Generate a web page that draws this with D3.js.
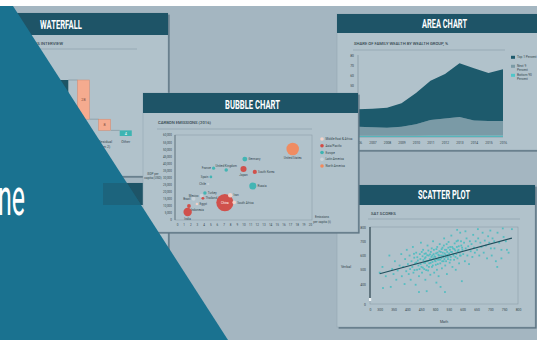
<!DOCTYPE html>
<html>
<head>
<meta charset="utf-8">
<script src="https://cdn.jsdelivr.net/npm/d3@7"></script>
<style>
  html, body { margin: 0; padding: 0; background: #a4b6c1; overflow: hidden; }
  svg { display: block; }
</style>
</head>
<body>
<svg id="board" width="537" height="340"></svg>
<script>
// ---------- Waterfall ----------
const waterfallCats   = ["Interviews", "Declined", "Residual", "Other"];
const waterfallLabels = [["Interviews"], ["Declined"], ["(Residual", "Item 2)"], ["Other"]];
const waterfallValues = [40, -28, -8, 4];
const waterfallKinds  = ["total", "delta", "delta", "total"];

// ---------- Bubble chart: CO2 per capita vs GDP per capita ----------
const bubbleCountries = ["United States", "Germany", "Japan", "South Korea", "Russia", "China", "Iran",
  "South Africa", "United Kingdom", "France", "Spain", "Chile", "Turkey", "Mexico", "Brazil",
  "Thailand", "Egypt", "Indonesia", "India"];
const bubbleCo2PerCapita = [17.4, 10.2, 10.0, 11.7, 11.4, 7.2, 8.0, 8.6, 7.4, 5.5, 5.1, 4.7, 4.2, 3.7, 2.5, 3.9, 3.0, 1.8, 1.6];
const bubbleGdpPerCapita = [50100, 43000, 36000, 33900, 24000, 12300, 17500, 12400, 35300, 36600, 30400, 25400, 19000, 17200, 15000, 15300, 11300, 9900, 5700];
const bubbleTotalCo2     = [5300, 800, 1250, 600, 1700, 10000, 650, 450, 420, 330, 250, 85, 400, 470, 480, 280, 230, 500, 2400];
const bubbleRegion = ["North America", "Europe", "Asia/Pacific", "Asia/Pacific", "Europe", "Asia/Pacific",
  "Middle East & Africa", "Middle East & Africa", "Europe", "Europe", "Europe", "Latin America", "Europe",
  "Latin America", "Latin America", "Asia/Pacific", "Middle East & Africa", "Asia/Pacific", "Asia/Pacific"];
const bubbleRegions = ["Middle East & Africa", "Asia/Pacific", "Europe", "Latin America", "North America"];
const bubbleYTicks = d3.range(0, 60001, 5000);
const bubbleXTicks = d3.range(0, 21, 1);

// ---------- Area chart: share of family wealth ----------
const wealthYears    = [2006, 2007, 2008, 2009, 2010, 2011, 2012, 2013, 2014, 2015, 2016];
const wealthBottom90 = [1.2, 1.2, 1.3, 1.3, 1.3, 1.4, 1.4, 1.5, 1.5, 1.4, 1.4];
const wealthNext9    = [8.8, 8.3, 7.7, 8.7, 11.2, 15.1, 16.6, 18.0, 14.5, 14.1, 14.1];
const wealthTop1     = [17.0, 18.0, 19.5, 23.0, 30.5, 38.5, 43.5, 52.5, 51.0, 47.0, 50.5];
const wealthGroups   = ["Top 1 Percent", "Next 9 Percent", "Bottom 90 Percent"];
const wealthYTicks   = [0, 10, 20, 30, 40, 50, 60, 70, 80];

// ---------- Scatter plot: SAT scores [math, verbal] ----------
const satScores = [
  [300,480],[310,520],[312,372],[322,455],[335,600],[340,380],[345,505],[350,470],
  [355,560],[360,430],[365,495],[372,530],[378,610],[380,455],[385,520],[390,400],[392,575],[396,490],[398,640],
  [402,540],[405,470],[408,600],[410,505],[412,430],[415,560],[418,520],[420,660],[422,480],[425,585],[428,545],
  [430,395],[432,620],[435,500],[438,565],[440,530],[442,344],[442,455],[445,610],[447,575],[449,690],
  [451,520],[453,480],[455,595],[457,640],[459,550],[461,505],[463,580],[465,430],[467,615],[469,560],[470,350],
  [471,530],[473,670],[475,495],[477,600],[479,545],[481,575],[483,465],[485,625],[487,590],[489,520],[491,555],
  [493,700],[495,610],[497,480],[499,565],[501,590],[503,535],[505,645],[505,410],[507,500],[509,620],[511,570],
  [513,455],[515,600],[517,680],[519,545],[520,380],[521,625],[523,580],[525,510],[527,655],[529,600],[531,560],
  [533,720],[535,615],[536,344],[537,530],[539,590],[541,640],[543,470],[545,605],[547,575],[549,695],
  [551,615],[553,550],[555,660],[557,590],[559,740],[561,625],[563,520],[565,650],[567,600],[569,570],[571,685],
  [573,635],[575,500],[577,610],[579,660],[581,580],[583,705],[585,640],[587,545],[589,620],[591,760],[593,600],
  [595,670],[597,420],[599,640],[602,610],[605,690],[608,560],[611,650],[614,720],[617,600],[620,665],[623,540],
  [626,700],[629,630],[632,680],[635,590],[638,745],[641,655],[644,620],[647,700],[652,640],[656,720],[660,600],
  [664,690],[668,660],[672,760],[676,620],[680,705],[684,670],[688,580],[692,735],[696,690],[702,650],[708,720],
  [714,700],[720,560],[726,760],[732,690],[740,640],[748,730],[756,700],[766,620],[778,785],
  [424,612],[426,498],[433,552],[436,588],[444,505],[448,540],[452,625],[456,515],[458,568],[462,612],[464,548],
  [466,588],[468,498],[472,602],[474,562],[476,635],[478,520],[482,608],[484,548],[486,570],[488,650],[490,600],
  [492,530],[494,580],[496,640],[498,595],[502,560],[504,615],[506,575],[508,660],[510,540],[512,605],[514,585],
  [516,630],[518,570],[522,600],[524,645],[526,560],[528,620],[530,590],[532,670],[534,575],[536,640],[538,605],
  [540,560],[542,680],[544,625],[546,590],[548,655],[552,600],[554,640],[556,570],[558,625],[562,660],[566,610],
  [570,645],[574,590],[578,700],[582,630],[586,665],[590,600],[594,700],[598,655],
  [580,780],[610,770],[655,785],[700,775],[745,790],[705,600],[725,520],[740,580],[760,640],[715,650]
];
const satMathTicks   = [265, 300, 350, 400, 450, 500, 550, 600, 650, 700, 750, 800];
const satVerbalTicks = [260, 400, 500, 600, 700, 800];

// ---------- Styling ----------
const FONT = "Roboto, 'DejaVu Sans', sans-serif";
const COL = {
  page: "#a4b6c1", body: "#b1c2cb", head: "#1e5467", shadow: "#5d7583",
  tri: "#1a7290", ink: "#34474f", frame: "#8799a3",
  salmon: "#f5ab8f", salmonEdge: "#c98a74", teal: "#3db4b2", dark: "#1d5566",
  red: "#d24b45", orange: "#f2895c", pale: "#f3d3c9", grey: "#c8d3d9",
  areaDark: "#1d5a6c", areaMid: "#7a9aa6", areaCyan: "#4fc6ca", dot: "#4bbdc0"
};
const regionColor = d3.scaleOrdinal()
  .domain(bubbleRegions)
  .range([COL.pale, COL.red, COL.teal, COL.grey, COL.orange]);

const svg = d3.select("#board");
svg.append("rect").attr("width", 537).attr("height", 340).attr("fill", COL.page);
svg.append("rect").attr("width", 537).attr("height", 6).attr("fill", "#ffffff");

function panel(x, y, w, h, hh, title, cx, tlen, base, fs) {
  const g = svg.append("g");
  g.append("rect").attr("x", x + 1.6).attr("y", y + 1.6).attr("width", w).attr("height", h)
    .attr("fill", COL.shadow);
  g.append("rect").attr("x", x).attr("y", y).attr("width", w).attr("height", h)
    .attr("fill", COL.body).attr("stroke", "#8fa3ae").attr("stroke-width", 0.5);
  g.append("rect").attr("x", x).attr("y", y).attr("width", w).attr("height", hh).attr("fill", COL.head);
  if (title) {
    g.append("text").attr("x", cx).attr("y", base).attr("text-anchor", "middle")
      .attr("font-family", FONT).attr("font-weight", 700).attr("font-size", fs)
      .attr("fill", "#ffffff").attr("textLength", tlen).attr("lengthAdjust", "spacingAndGlyphs")
      .text(title);
  }
  return g;
}

function tinyText(g, x, y, t, opts = {}) {
  return g.append("text").attr("x", x).attr("y", y)
    .attr("font-family", FONT).attr("font-size", opts.size || 3.4)
    .attr("fill", opts.fill || COL.ink).attr("text-anchor", opts.anchor || "start")
    .attr("font-weight", opts.weight || 400)
    .text(t);
}

function styleAxis(g, size) {
  g.attr("font-family", FONT).attr("font-size", size || 3.3);
  g.select(".domain").remove();
  g.selectAll(".tick line").remove();
  g.selectAll(".tick text").attr("fill", COL.ink);
}

// ================= WATERFALL =================
{
  const g = panel(16, 13, 152, 163, 22, "WATERFALL", 61, 42, 29, 13);
  tinyText(g, 27, 45, "SALES INTERVIEW", { size: 4.3, weight: 500 });
  g.append("line").attr("x1", 28).attr("x2", 137).attr("y1", 49).attr("y2", 49)
    .attr("stroke", "#7f929c").attr("stroke-width", 0.5);

  const x = d3.scaleBand().domain(waterfallCats).range([52, 136]).paddingInner(0.43).paddingOuter(0.2);
  const y = d3.scaleLinear().domain([0, 40]).range([136, 80]);

  let running = 0;
  const steps = waterfallCats.map((c, i) => {
    const v = waterfallValues[i];
    let y0, y1;
    if (waterfallKinds[i] === "total") { y0 = 0; y1 = v; running = v; }
    else { y0 = running; y1 = running + v; running = y1; }
    return { c, v, y0, y1, kind: waterfallKinds[i], i };
  });

  // connectors between consecutive steps
  steps.slice(0, -1).forEach((s, i) => {
    g.append("line")
      .attr("x1", x(s.c) + x.bandwidth()).attr("x2", x(steps[i + 1].c))
      .attr("y1", y(s.y1)).attr("y2", y(s.y1))
      .attr("stroke", "#7b8d97").attr("stroke-width", 0.6);
  });

  g.selectAll("rect.wf").data(steps).join("rect").attr("class", "wf")
    .attr("x", d => x(d.c)).attr("width", x.bandwidth())
    .attr("y", d => y(Math.max(d.y0, d.y1)))
    .attr("height", d => Math.abs(y(d.y0) - y(d.y1)))
    .attr("fill", d => d.i === 0 ? COL.dark : (d.kind === "total" ? COL.teal : COL.salmon))
    .attr("stroke", d => d.kind === "delta" ? COL.salmonEdge : "none")
    .attr("stroke-width", 0.5);

  g.selectAll("text.wfv").data(steps.filter(d => d.i > 0)).join("text").attr("class", "wfv")
    .attr("x", d => x(d.c) + x.bandwidth() / 2)
    .attr("y", d => (y(d.y0) + y(d.y1)) / 2 + 1.3)
    .attr("text-anchor", "middle").attr("font-family", FONT).attr("font-size", 3.8)
    .attr("fill", d => d.kind === "total" ? "#ffffff" : "#7a4a3c")
    .text(d => Math.abs(d.v));

  steps.forEach((s, i) => {
    waterfallLabels[i].forEach((line, k) => {
      tinyText(g, x(s.c) + x.bandwidth() / 2, 143 + k * 4.5, line, { anchor: "middle", size: 3.6 });
    });
  });
}

// ================= LOWER-LEFT PANEL (behind) =================
panel(100, 183, 68, 170, 22, null);

// ================= AREA CHART =================
{
  const g = panel(337, 14, 210, 136, 19, "AREA CHART", 444.5, 45, 28, 12);
  tinyText(g, 354, 45, "SHARE OF FAMILY WEALTH BY WEALTH GROUP, %", { size: 4.2, weight: 500 });
  g.append("line").attr("x1", 353).attr("x2", 505).attr("y1", 50).attr("y2", 50)
    .attr("stroke", "#7f929c").attr("stroke-width", 0.5);

  const x = d3.scaleLinear().domain(d3.extent(wealthYears)).range([358, 503]);
  const y = d3.scaleLinear().domain([0, 80]).range([137, 55]);

  const rows = wealthYears.map((yr, i) => ({
    year: yr, b90: wealthBottom90[i], n9: wealthNext9[i], t1: wealthTop1[i]
  }));
  const series = d3.stack().keys(["b90", "n9", "t1"])(rows);
  const fills = { b90: COL.areaCyan, n9: COL.areaMid, t1: COL.areaDark };
  const area = d3.area().x(d => x(d.data.year)).y0(d => y(d[0])).y1(d => y(d[1]));
  g.selectAll("path.ar").data(series).join("path").attr("class", "ar")
    .attr("d", area).attr("fill", d => fills[d.key]);

  g.append("line").attr("x1", 358).attr("x2", 358).attr("y1", 55).attr("y2", 137)
    .attr("stroke", "#6f828c").attr("stroke-width", 0.5);
  g.append("line").attr("x1", 358).attr("x2", 503).attr("y1", 137).attr("y2", 137)
    .attr("stroke", "#6f828c").attr("stroke-width", 0.5);

  const ya = g.append("g").attr("transform", "translate(355,0)")
    .call(d3.axisLeft(y).tickValues(wealthYTicks).tickSize(0).tickPadding(1));
  styleAxis(ya, 3.4);
  const xa = g.append("g").attr("transform", "translate(0,140)")
    .call(d3.axisBottom(x).tickValues(wealthYears).tickFormat(d3.format("d")).tickSize(0).tickPadding(2));
  styleAxis(xa, 3.3);

  const lg = [{ k: "t1", t: ["Top 1 Percent"] }, { k: "n9", t: ["Next 9", "Percent"] }, { k: "b90", t: ["Bottom 90", "Percent"] }];
  const lgY = d3.scalePoint().domain(lg.map(d => d.k)).range([58, 76]);
  lg.forEach(d => {
    g.append("rect").attr("x", 511).attr("y", lgY(d.k) - 2.2).attr("width", 4).attr("height", 3)
      .attr("fill", fills[d.k]);
    d.t.forEach((line, k) => tinyText(g, 517, lgY(d.k) + k * 4, line, { size: 3.2 }));
  });
}

// ================= SCATTER PLOT =================
{
  const g = panel(337, 185, 198, 142, 20, "SCATTER PLOT", 444, 52, 199, 12);
  tinyText(g, 371, 215, "SAT SCORES", { size: 4.3, weight: 500 });
  g.append("line").attr("x1", 368).attr("x2", 520).attr("y1", 219).attr("y2", 219)
    .attr("stroke", "#7f929c").attr("stroke-width", 0.5);

  const x = d3.scaleLinear().domain([265, 800]).range([370, 518]);
  const y = d3.scaleLinear().domain([260, 800]).range([304, 227]);

  g.append("rect").attr("x", 370).attr("y", 227).attr("width", 148).attr("height", 77)
    .attr("fill", "none").attr("stroke", COL.frame).attr("stroke-width", 0.5);

  g.selectAll("rect.pt").data(satScores).join("rect").attr("class", "pt")
    .attr("x", d => x(d[0]) - 0.9).attr("y", d => y(d[1]) - 0.9)
    .attr("width", 1.8).attr("height", 1.8).attr("fill", COL.dot).attr("opacity", 0.9);

  // least-squares trend line
  const mx = d3.mean(satScores, d => d[0]), my = d3.mean(satScores, d => d[1]);
  const slope = d3.sum(satScores, d => (d[0] - mx) * (d[1] - my)) / d3.sum(satScores, d => (d[0] - mx) ** 2);
  const [xmin, xmax] = d3.extent(satScores, d => d[0]);
  const fit = v => my + slope * (v - mx);
  g.append("line").attr("x1", x(xmin)).attr("y1", y(fit(xmin))).attr("x2", x(xmax)).attr("y2", y(fit(xmax)))
    .attr("stroke", "#1f4e5c").attr("stroke-width", 1.1);

  // left axis line with break mark
  g.append("line").attr("x1", 370).attr("x2", 370).attr("y1", 227).attr("y2", 300)
    .attr("stroke", "#3c525d").attr("stroke-width", 1.3);
  g.append("rect").attr("x", 369).attr("y", 298).attr("width", 2.2).attr("height", 3)
    .attr("fill", "#eef3f5");

  const ya = g.append("g").attr("transform", "translate(367,0)")
    .call(d3.axisLeft(y).tickValues(satVerbalTicks).tickFormat(d => d === 260 ? "0" : d).tickSize(0).tickPadding(1));
  styleAxis(ya, 3.4);
  const xa = g.append("g").attr("transform", "translate(0,308)")
    .call(d3.axisBottom(x).tickValues(satMathTicks).tickFormat(d => d === 265 ? "0" : d).tickSize(0).tickPadding(1));
  styleAxis(xa, 3.4);

  tinyText(g, 346, 268, "Verbal", { size: 3.6, anchor: "middle" });
  tinyText(g, 444, 323, "Math", { size: 3.6, anchor: "middle" });
}

// ================= BUBBLE CHART =================
{
  const g = panel(143, 93, 215, 139, 20, "BUBBLE CHART", 252.5, 55, 108.5, 13);
  tinyText(g, 158, 124, "CARBON EMISSIONS (2016)", { size: 4.2, weight: 500 });
  g.append("line").attr("x1", 157).attr("x2", 312).attr("y1", 129).attr("y2", 129)
    .attr("stroke", "#7f929c").attr("stroke-width", 0.5);

  const x = d3.scaleLinear().domain([0, 20]).range([177, 310]);
  const y = d3.scaleLinear().domain([0, 60000]).range([220, 135]);
  const r = d3.scaleSqrt().domain([0, 10000]).range([0, 8.6]);

  g.append("rect").attr("x", 175).attr("y", 135).attr("width", 137).attr("height", 85)
    .attr("fill", "none").attr("stroke", COL.frame).attr("stroke-width", 0.5);
  g.append("line").attr("x1", 175).attr("x2", 175).attr("y1", 135).attr("y2", 220)
    .attr("stroke", "#4d626d").attr("stroke-width", 0.7);

  const ya = g.append("g").attr("transform", "translate(173,0)")
    .call(d3.axisLeft(y).tickValues(bubbleYTicks).tickFormat(d3.format(",")).tickSize(0).tickPadding(1));
  styleAxis(ya, 3.0);
  const xa = g.append("g").attr("transform", "translate(0,223)")
    .call(d3.axisBottom(x).tickValues(bubbleXTicks).tickSize(0).tickPadding(1));
  styleAxis(xa, 3.0);

  const bubbles = bubbleCountries.map((n, i) => ({
    name: n, x: bubbleCo2PerCapita[i], y: bubbleGdpPerCapita[i], v: bubbleTotalCo2[i], region: bubbleRegion[i]
  })).sort((a, b) => b.v - a.v);

  g.selectAll("circle.bb").data(bubbles).join("circle").attr("class", "bb")
    .attr("cx", d => x(d.x)).attr("cy", d => y(d.y)).attr("r", d => Math.max(r(d.v), 1.1))
    .attr("fill", d => regionColor(d.region)).attr("opacity", 0.95);

  // label placement around each bubble
  const side = {
    "United States": "b", "Germany": "r", "Japan": "b", "South Korea": "r", "Russia": "r",
    "China": "c", "Iran": "r", "South Africa": "r", "United Kingdom": "t", "France": "l",
    "Spain": "l", "Chile": "l", "Turkey": "r", "Mexico": "l", "Brazil": "l",
    "Thailand": "r", "Egypt": "r", "Indonesia": "br", "India": "b"
  };
  bubbles.forEach(d => {
    const cx = x(d.x), cy = y(d.y), rr = Math.max(r(d.v), 1.1), s = side[d.name];
    let tx = cx, ty = cy + 1.1, anchor = "middle", fill = COL.ink;
    if (s === "r") { tx = cx + rr + 1.2; anchor = "start"; }
    if (s === "l") { tx = cx - rr - 1.2; anchor = "end"; }
    if (s === "b") { ty = cy + rr + 3.6; }
    if (s === "br") { tx = cx + rr; anchor = "start"; ty = cy + rr + 3.4; }
    if (s === "t") { ty = cy - rr - 1.5; }
    if (s === "c") { fill = "#ffffff"; }
    tinyText(g, tx, ty, d.name, { size: 3.0, anchor, fill });
  });

  tinyText(g, 153, 175, "GDP per", { size: 3.1, anchor: "middle" });
  tinyText(g, 153, 179, "capita (USD)", { size: 3.1, anchor: "middle" });
  tinyText(g, 322, 218, "Emissions", { size: 3.1, anchor: "middle" });
  tinyText(g, 322, 222.5, "per capita (t)", { size: 3.1, anchor: "middle" });

  const ly = d3.scalePoint().domain(bubbleRegions).range([139, 166]);
  bubbleRegions.forEach(rg => {
    g.append("circle").attr("cx", 322).attr("cy", ly(rg)).attr("r", 1.8).attr("fill", regionColor(rg));
    tinyText(g, 325.5, ly(rg) + 1.1, rg, { size: 3.0 });
  });
}

// ================= Foreground wedge and caption =================
const wedge = "0,6 13,6 228,340 0,340";
svg.append("clipPath").attr("id", "wedgeClip").append("polygon").attr("points", wedge);
svg.append("polygon").attr("points", wedge).attr("fill", COL.tri);
// the header of the panel lying under the wedge shows through faintly
svg.append("rect").attr("x", 103).attr("y", 183).attr("width", 65).attr("height", 22)
  .attr("fill", COL.head).attr("opacity", 0.45).attr("clip-path", "url(#wedgeClip)");

svg.append("text")
  .attr("transform", "translate(25,215) scale(0.48,1)")
  .attr("text-anchor", "end")
  .attr("font-family", "Roboto, 'DejaVu Sans', sans-serif")
  .attr("font-weight", 400).attr("font-size", 52)
  .attr("fill", "#ffffff")
  .text("ne");
</script>
</body>
</html>
